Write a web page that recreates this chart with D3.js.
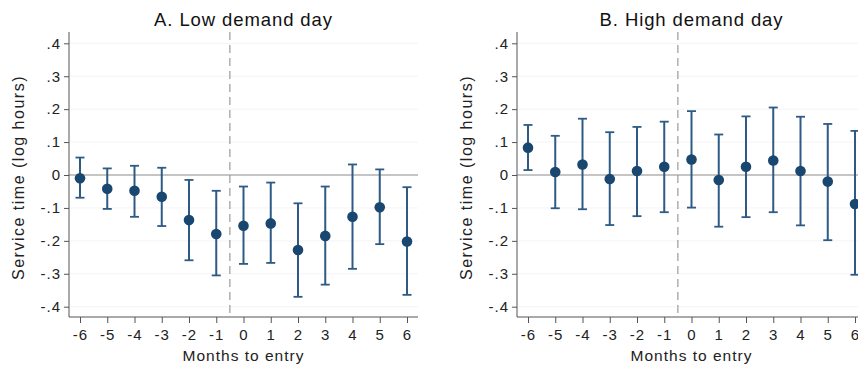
<!DOCTYPE html>
<html><head>
<meta charset="utf-8">
<title>Service time event study</title>
<script src="https://d3js.org/d3.v7.min.js"></script>
<style>
  body { margin: 0; background: #fff; }
  svg { display: block; font-family: "Liberation Sans", Arial, sans-serif; }
  .tick text { font-size: 15px; letter-spacing: 1px; fill: #222; }
  .tick line, .domain { stroke: #555; }
  .grid line { stroke: #f4f4f4; }
</style>
</head>
<body>
<svg id="chart" width="858" height="370"></svg>
<script>

// months relative to entry
const months = [-6, -5, -4, -3, -2, -1, 0, 1, 2, 3, 4, 5, 6];
const yTicks = [-0.4, -0.3, -0.2, -0.1, 0, 0.1, 0.2, 0.3, 0.4];

// Panel A: low demand day (point estimate + 95% CI)
const lowEst = [-0.010, -0.042, -0.048, -0.066, -0.137, -0.179, -0.154, -0.147, -0.228, -0.185, -0.127, -0.098, -0.202];
const lowLo  = [-0.069, -0.103, -0.127, -0.155, -0.259, -0.305, -0.270, -0.267, -0.370, -0.333, -0.285, -0.210, -0.364];
const lowHi  = [ 0.053,  0.020,  0.028,  0.022, -0.015, -0.048, -0.035, -0.023, -0.086, -0.035,  0.032,  0.017, -0.037];

// Panel B: high demand day
const highEst = [0.083, 0.009, 0.032, -0.012, 0.012, 0.025, 0.047, -0.015, 0.025, 0.044, 0.012, -0.020, -0.088];
const highLo  = [0.015, -0.101, -0.104, -0.152, -0.125, -0.113, -0.099, -0.157, -0.128, -0.113, -0.153, -0.198, -0.303];
const highHi  = [0.152, 0.119, 0.171, 0.130, 0.146, 0.162, 0.194, 0.123, 0.178, 0.205, 0.177, 0.155, 0.134];

const svg = d3.select("#chart");
const plotTop = 32, plotBottom = 317, panelW = 349;
const navy = "#1a476f", barColor = "#2d5b86";

const y = d3.scaleLinear().domain([-0.4, 0.4]).range([306.7, 43.3]);

// Stata style labels: plain hyphen, no leading zero
const fmt = d => d === 0 ? "0" : d3.format(".1f")(d).replace("\u2212", "-").replace("0.", ".");
const fmtX = d => String(d);

function drawPanel(left, title, est, lo, hi) {
  const g = svg.append("g");
  const x = d3.scaleLinear().domain([-6, 6]).range([left + 11, left + 338]);
  const rows = months.map((m, i) => ({m: m, est: est[i], lo: lo[i], hi: hi[i]}));

  // faint grid
  g.append("g").attr("class", "grid")
    .selectAll("line").data(yTicks.filter(t => t !== 0)).join("line")
    .attr("x1", left + 1).attr("x2", left + panelW)
    .attr("y1", d => y(d)).attr("y2", d => y(d));

  // zero line
  g.append("line")
    .attr("x1", left).attr("x2", left + panelW)
    .attr("y1", y(0)).attr("y2", y(0))
    .attr("stroke", "#8c8c8c").attr("stroke-width", 1.2);

  // entry line between -1 and 0
  g.append("line")
    .attr("x1", x(-0.5)).attr("x2", x(-0.5))
    .attr("y1", plotTop).attr("y2", plotBottom)
    .attr("stroke", "#9a9a9a").attr("stroke-width", 1.2)
    .attr("stroke-dasharray", "8,5");

  // y axis
  const yAxis = d3.axisLeft(y).tickValues(yTicks).tickFormat(fmt).tickSizeOuter(0).tickSize(5).tickPadding(3);
  const ya = g.append("g").attr("transform", "translate(" + left + ",0)").call(yAxis);
  ya.select(".domain").attr("d", "M0," + plotTop + "V" + plotBottom);

  // x axis
  const xAxis = d3.axisBottom(x).tickValues(months).tickFormat(fmtX).tickSizeOuter(0).tickSize(6).tickPadding(6);
  const xa = g.append("g").attr("transform", "translate(0," + plotBottom + ")").call(xAxis);
  xa.select(".domain").attr("d", "M" + left + ",0H" + (left + panelW));

  // confidence intervals
  g.selectAll("line.ci").data(rows).join("line")
    .attr("class", "ci")
    .attr("x1", d => x(d.m)).attr("x2", d => x(d.m))
    .attr("y1", d => y(d.lo)).attr("y2", d => y(d.hi))
    .attr("stroke", barColor).attr("stroke-width", 2);
  ["lo", "hi"].forEach(k => {
    g.selectAll("line.cap" + k).data(rows).join("line")
      .attr("class", "cap" + k)
      .attr("x1", d => x(d.m) - 4.5).attr("x2", d => x(d.m) + 4.5)
      .attr("y1", d => y(d[k])).attr("y2", d => y(d[k]))
      .attr("stroke", barColor).attr("stroke-width", 1.8);
  });

  // point estimates
  g.selectAll("circle").data(rows).join("circle")
    .attr("cx", d => x(d.m)).attr("cy", d => y(d.est))
    .attr("r", 5.3).attr("fill", navy);

  // titles
  g.append("text")
    .attr("x", left + panelW / 2).attr("y", 26)
    .attr("text-anchor", "middle")
    .style("font-size", "18.5px").style("letter-spacing", "0.9px").attr("fill", "#111")
    .text(title);
  g.append("text")
    .attr("x", left + panelW / 2).attr("y", 361)
    .attr("text-anchor", "middle")
    .style("font-size", "15.5px").style("letter-spacing", "1px").attr("fill", "#222")
    .text("Months to entry");
  g.append("text")
    .attr("transform", "translate(" + (left - 45) + "," + ((plotTop + plotBottom) / 2 + 3) + ") rotate(-90)")
    .attr("text-anchor", "middle")
    .style("font-size", "16px").style("letter-spacing", "1.5px").attr("fill", "#222")
    .text("Service time (log hours)");
}

drawPanel(69, "A. Low demand day", lowEst, lowLo, lowHi);
drawPanel(517, "B. High demand day", highEst, highLo, highHi);

</script>
</body>
</html>
